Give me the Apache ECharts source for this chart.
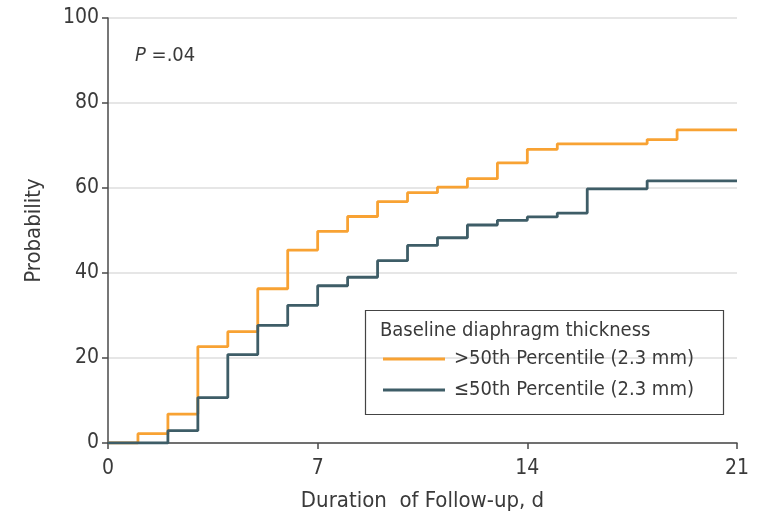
<!DOCTYPE html>
<html>
<head>
<meta charset="utf-8">
<script src="https://cdn.jsdelivr.net/npm/echarts@6/dist/echarts.min.js"></script>
<style>
html,body{margin:0;padding:0;background:#fff;}
#main{width:772px;height:517px;}
</style>
</head>
<body>
<div id="main"></div>
<script>
var xTicks = [0, 7, 14, 21];
var yTicks = [0, 20, 40, 60, 80, 100];

// >50th percentile, days and cumulative probability (%)
var aboveDays = [0, 1, 2, 3, 4, 5, 6, 7, 8, 9, 10, 11, 12, 13, 14, 15, 18, 19, 21];
var aboveVals = [0, 2.2, 6.8, 22.7, 26.2, 36.3, 45.4, 49.8, 53.3, 56.8, 58.9, 60.2, 62.2, 65.9, 69.1, 70.4, 71.4, 73.7, 73.7];

// <=50th percentile
var belowDays = [0, 2, 3, 4, 5, 6, 7, 8, 9, 10, 11, 12, 13, 14, 15, 16, 18, 21];
var belowVals = [0, 2.9, 10.7, 20.8, 27.7, 32.4, 37, 39, 42.9, 46.5, 48.3, 51.3, 52.4, 53.2, 54.1, 59.8, 61.7, 61.7];

var legendTitle = 'Baseline diaphragm thickness';
var seriesNames = ['>50th Percentile (2.3 mm)', '\u226450th Percentile (2.3 mm)'];
var colors = ['#F8A233', '#3E5D67'];

function pairs(xs, ys){
	var out = [];
	for(var i=0;i<xs.length;i++){
		out.push([xs[i], ys[i]]);
	}
	return out;
}

var font = '"DejaVu Sans Condensed", "Liberation Sans Narrow", sans-serif';
var txt = '#3a3a3a';

var myChart = echarts.init(document.getElementById('main'));
var option = {
	animation: false,
	grid: {left: 108, right: 35, top: 18, bottom: 71, containLabel: false},
	xAxis: {
		type: 'value', min: 0, max: 21, interval: 7,
		name: 'Duration  of Follow-up, d', nameLocation: 'middle', nameGap: 47,
		nameTextStyle: {fontFamily: font, fontSize: 22, color: txt},
		axisLine: {show: true, onZero: false, lineStyle: {color: '#4a4a4a', width: 1.5}},
		axisTick: {show: true, length: 6, lineStyle: {color: '#4a4a4a', width: 1.5}},
		axisLabel: {fontFamily: font, fontSize: 21, color: txt, margin: 15},
		splitLine: {show: false}
	},
	yAxis: {
		type: 'value', min: 0, max: 100, interval: 20,
		name: 'Probability', nameLocation: 'middle', nameGap: 63, nameRotate: 90,
		nameTextStyle: {fontFamily: font, fontSize: 22, color: txt},
		axisLine: {show: true, lineStyle: {color: '#4a4a4a', width: 1.5}},
		axisTick: {show: true, length: 6, lineStyle: {color: '#4a4a4a', width: 1.5}},
		axisLabel: {fontFamily: font, fontSize: 21, color: txt, margin: 9},
		splitLine: {show: true, lineStyle: {color: '#e6e6e6', width: 2}}
	},
	legend: {
		orient: 'vertical', left: 378, top: 344,
		itemWidth: 62, itemHeight: 3, itemGap: 11, icon: 'rect',
		textStyle: {fontFamily: font, fontSize: 20, color: txt, padding: [0, 0, 0, 4]},
		data: seriesNames
	},
	graphic: [
		{type: 'rect', left: 363, top: 308, shape: {width: 358, height: 104},
			style: {fill: 'none', stroke: '#444', lineWidth: 1.2}, z: 10},
		{type: 'text', left: 380, top: 321,
			style: {text: legendTitle, font: '20px ' + font, fill: txt}, z: 10},
		{type: 'text', left: 135, top: 46,
			style: {text: '{i|P} =.04', rich: {i: {fontStyle: 'italic', fontFamily: font, fontSize: 20, fill: txt}}, font: '20px ' + font, fill: txt}, z: 10}
	],
	series: [
		{
			name: seriesNames[0], type: 'line', step: 'end', symbol: 'none',
			data: pairs(aboveDays, aboveVals),
			lineStyle: {color: colors[0], width: 2.8}, itemStyle: {color: colors[0]}, z: 3
		},
		{
			name: seriesNames[1], type: 'line', step: 'end', symbol: 'none',
			data: pairs(belowDays, belowVals),
			lineStyle: {color: colors[1], width: 2.8}, itemStyle: {color: colors[1]}, z: 4
		}
	]
};
myChart.setOption(option);
</script>
</body>
</html>
